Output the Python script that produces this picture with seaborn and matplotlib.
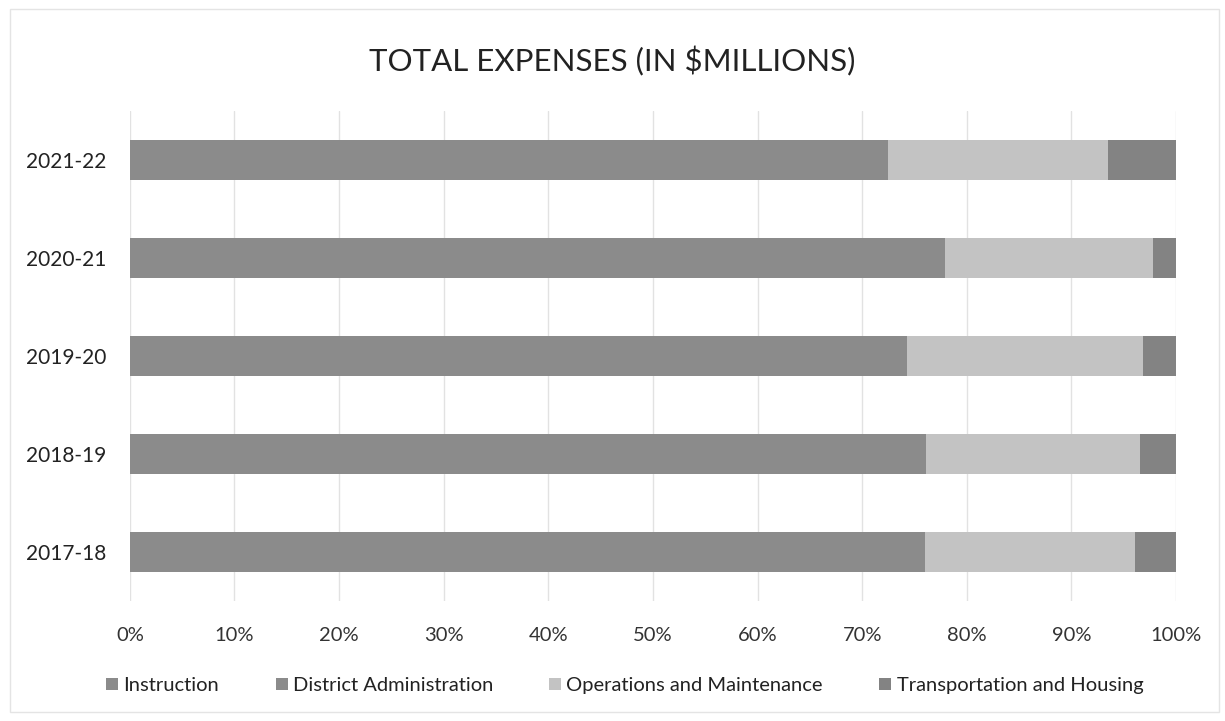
import matplotlib
matplotlib.use("Agg")
import matplotlib.pyplot as plt
import seaborn as sns
import pandas as pd
import numpy as np
from matplotlib.patches import Rectangle, Patch

years = ["2021-22", "2020-21", "2019-20", "2018-19", "2017-18"]
instruction = [68.5, 74.0, 70.5, 72.0, 72.0]
district_admin = [4.0, 3.9, 3.8, 4.1, 4.0]
operations = [21.0, 19.9, 22.5, 20.5, 20.1]
transportation = [6.5, 2.2, 3.2, 3.4, 3.9]

series_names = ["Instruction", "District Administration",
                "Operations and Maintenance", "Transportation and Housing"]
series_values = [instruction, district_admin, operations, transportation]
colors = ["#8b8b8b", "#8b8b8b", "#c3c3c3", "#838383"]

sns.set_theme(style="white")
plt.rcParams["font.family"] = ["Lato", "DejaVu Sans"]

fig = plt.figure(figsize=(12.25, 7.21), dpi=100)
ax = fig.add_axes([0.106, 0.1665, 0.854, 0.68])

df = pd.DataFrame({"year": years})
cum = np.zeros(len(years))
cums = []
for vals in series_values:
    cum = cum + np.array(vals)
    cums.append(cum.copy())

# Draw cumulative totals from the widest down so each segment shows through
for name, total, color in reversed(list(zip(series_names, cums, colors))):
    df["total"] = total
    sns.barplot(data=df, x="total", y="year", order=years, color=color,
                width=0.41, orient="h", ax=ax, saturation=1, linewidth=0,
                zorder=3)

ax.set_xlim(0, 100)
ax.set_ylim(4.5, -0.5)
ax.set_xticks(np.arange(0, 101, 10))
ax.set_xticklabels([f"{v}%" for v in range(0, 101, 10)], fontsize=14.5,
                   color="#333333")
ax.tick_params(axis="y", labelsize=15, labelcolor="#222222", length=0, pad=17)
ax.tick_params(axis="x", length=0, pad=19)
ax.set_xlabel("")
ax.set_ylabel("")
ax.grid(axis="x", color="#e2e2e2", linewidth=1.0, zorder=0)
for s in ax.spines.values():
    s.set_visible(False)

fig.text(0.5, 0.915, "TOTAL EXPENSES (IN $MILLIONS)", ha="center", va="center",
         fontsize=22.5, color="#222222")

handles = [Patch(facecolor=c, edgecolor="none") for c in colors]
fig.legend(handles, series_names, loc="center", bbox_to_anchor=(0.51, 0.049),
           ncol=4, frameon=False, fontsize=14.5, handlelength=0.6,
           handleheight=0.6, handletextpad=0.25, columnspacing=2.8,
           labelcolor="#222222")

fig.patches.append(Rectangle((0.008, 0.012), 0.987, 0.975,
                             transform=fig.transFigure, fill=False,
                             edgecolor="#e4e4e4", linewidth=1.0))

fig.savefig("out.png", dpi=100, facecolor="white")
